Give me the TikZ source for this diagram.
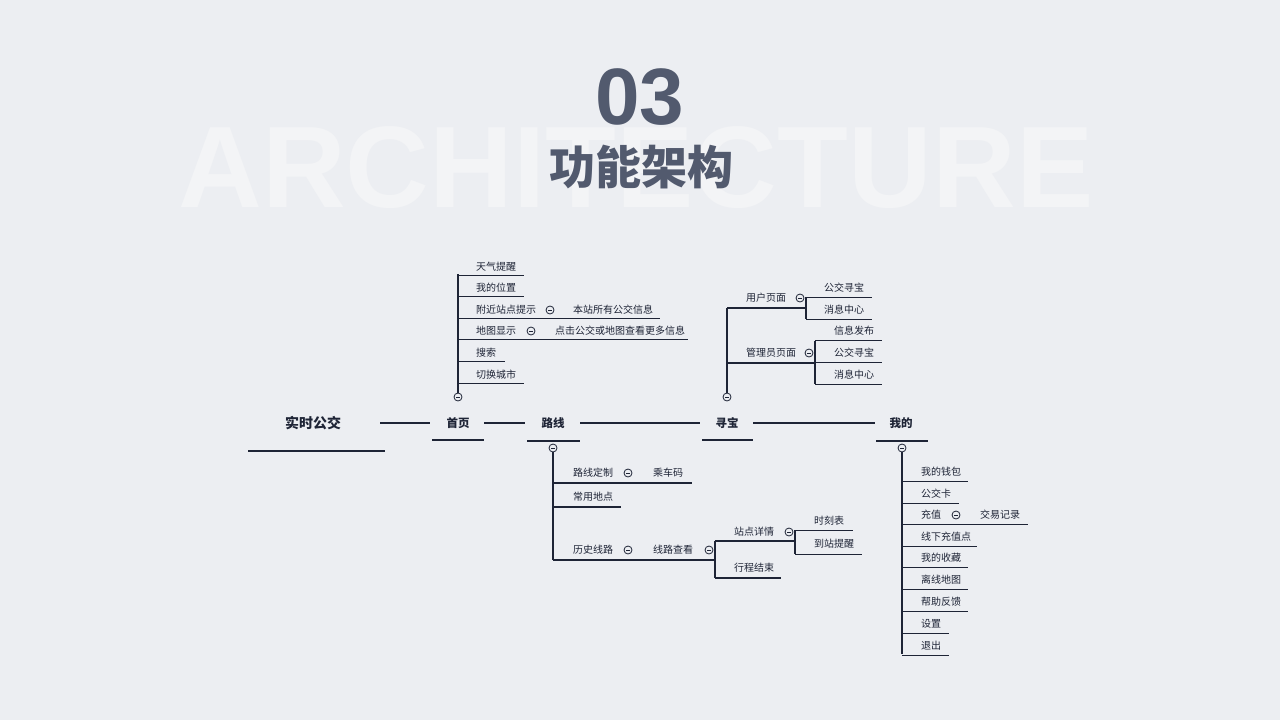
\documentclass[tikz,border=0pt]{standalone}
\usepackage{fontspec}
\setmainfont{Noto Sans CJK SC}
\newfontfamily\latinfont{Liberation Sans}
\usetikzlibrary{calc}
\definecolor{bg}{HTML}{ECEEF2}
\definecolor{ink}{HTML}{1E2436}
\definecolor{titlec}{HTML}{525A6E}
\definecolor{ghost}{HTML}{F3F4F6}
\begin{document}
\begin{tikzpicture}[x=1pt,y=-1pt]
  % canvas
  \useasboundingbox (0,0) rectangle (1280,720);
  \fill[bg] (0,0) rectangle (1280,720);

  % styles
  \tikzset{
    br/.style={draw=ink,line width=1.2pt},
    ul/.style={draw=ink,line width=0.8pt},
    main/.style={draw=ink,line width=2.2pt},
    leaf/.style={font=\fontsize{10}{11}\selectfont,text=ink,anchor=west,inner sep=0pt},
    hub/.style={font=\bfseries\fontsize{11.5}{12}\selectfont,text=ink,inner sep=0pt},
    fold/.style={circle,draw=ink,fill=bg,line width=0.8pt,minimum size=8pt,inner sep=0pt,
      path picture={\draw[ink,line width=0.7pt] ([xshift=-2pt]path picture bounding box.center) -- ([xshift=2pt]path picture bounding box.center);}},
  }

  % title
  \node[font=\latinfont\bfseries\fontsize{116}{116}\selectfont,text=ghost] (bgword) at (636,168) {ARCHITECTURE};
  \node[font=\latinfont\bfseries\fontsize{80}{80}\selectfont,text=titlec] (num) at (640,97) {03};
  \node[font=\bfseries\fontsize{46}{46}\selectfont,text=titlec] (ttl) at (641,167) {功能架构};

  % main axis
  \node[hub,font=\bfseries\fontsize{14}{15}\selectfont] (root) at (313,423) {实时公交};
  \node[hub] (home) at (458,423) {首页};
  \node[hub] (route) at (553,423) {路线};
  \node[hub] (hunt) at (727,423) {寻宝};
  \node[hub] (mine) at (901,423) {我的};
  \draw[main] (248,451) -- (385,451);
  \draw[main] (432,440) -- (484,440);
  \draw[main] (527,441) -- (580,441);
  \draw[main] (702,440) -- (753,440);
  \draw[main] (876,441) -- (928,441);
  \draw[br,line width=1.6pt] (380,423) -- (430,423);
  \draw[br,line width=1.6pt] (484,423) -- (525,423);
  \draw[br,line width=1.6pt] (580,423) -- (700,423);
  \draw[br,line width=1.6pt] (753,423) -- (875,423);

  % 首页
  \draw[br] (458,274) -- (458,393);
  \node[fold] (fhome) at (458,397) {};
  \foreach \t/\y/\e in {天气提醒/267/524,我的位置/288/524,附近站点提示/310/660,地图显示/331/688,搜索/353/505,切换城市/375/524}{
    \node[leaf] at (476,\y) {\t};
    \draw[ul] (458,\y+8.5) -- (\e,\y+8.5);
  }
  \node[fold] (fnear) at (550,310) {};
  \node[leaf] (near) at (573,310) {本站所有公交信息};
  \node[fold] (fmap) at (531,331) {};
  \node[leaf] (map) at (555,331) {点击公交或地图查看更多信息};

  % 寻宝
  \draw[br] (727,308) -- (727,393);
  \node[fold] (fhunt) at (727,397) {};
  \node[leaf] (user) at (746,298) {用户页面};
  \draw[br] (727,308) -- (806,308);
  \node[fold] (fuser) at (800,298) {};
  \draw[br] (806,297) -- (806,319);
  \node[leaf] (admin) at (746,353) {管理员页面};
  \draw[br] (727,363) -- (815,363);
  \node[fold] (fadmin) at (809,353) {};
  \draw[br] (815,341) -- (815,384);
  \foreach \t/\y in {公交寻宝/288,消息中心/310}{
    \node[leaf] at (824,\y) {\t};
    \draw[ul] (806,\y+9) -- (872,\y+9);
  }
  \foreach \t/\y in {信息发布/331,公交寻宝/353,消息中心/375}{
    \node[leaf] at (834,\y) {\t};
    \draw[ul] (815,\y+9.5) -- (882,\y+9.5);
  }

  % 路线
  \node[fold] (froute) at (553,448) {};
  \draw[br] (553,452) -- (553,560);
  \node[leaf] (plan) at (573,473) {路线定制};
  \draw[br] (553,483) -- (692,483);
  \node[fold] (fplan) at (628,473) {};
  \node[leaf] (code) at (653,473) {乘车码};
  \node[leaf] (fav) at (573,497) {常用地点};
  \draw[br] (553,507) -- (621,507);
  \node[leaf] (hist) at (573,550) {历史线路};
  \draw[br] (553,560) -- (715,560);
  \node[fold] (fhist) at (628,550) {};
  \node[leaf] (view) at (653,550) {线路查看};
  \node[fold] (fview) at (709,550) {};
  \draw[br] (715,541) -- (715,578);
  \node[leaf] (stop) at (734,532) {站点详情};
  \draw[br] (715,541) -- (795,541);
  \node[fold] (fstop) at (789,532) {};
  \draw[br] (795,530) -- (795,554);
  \node[leaf] (tt) at (814,521) {时刻表};
  \draw[ul] (795,530) -- (853,530);
  \node[leaf] (arr) at (814,544) {到站提醒};
  \draw[ul] (795,554) -- (862,554);
  \node[leaf] (end) at (734,568) {行程结束};
  \draw[br] (715,578) -- (781,578);

  % 我的
  \node[fold] (fmine) at (902,448) {};
  \draw[br] (902,452) -- (902,654);
  \foreach \t/\y/\e in {我的钱包/472/968,公交卡/494/959,充值/515/1028,线下充值点/537/977,我的收藏/558/968,离线地图/580/968,帮助反馈/602/968,设置/624/949,退出/646/949}{
    \node[leaf] at (921,\y) {\t};
    \draw[ul] (902,\y+9) -- (\e,\y+9);
  }
  \node[fold] (fcharge) at (956,515) {};
  \node[leaf] (rec) at (980,515) {交易记录};
\end{tikzpicture}
\end{document}
